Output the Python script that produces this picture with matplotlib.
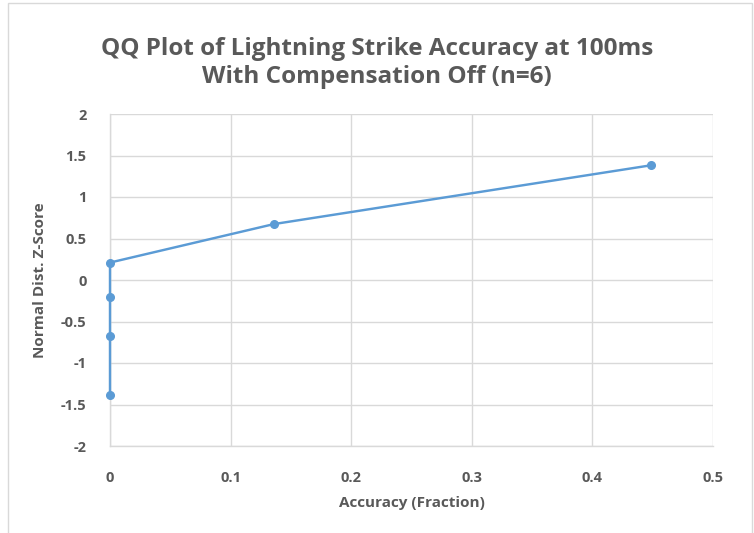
import matplotlib
matplotlib.use("Agg")
import matplotlib.pyplot as plt
from matplotlib.patches import Rectangle

# dati del QQ plot (n=6)
accuracy = [0.0, 0.0, 0.0, 0.0, 0.136, 0.449]
z_score = [-1.383, -0.674, -0.210, 0.210, 0.674, 1.383]

x_ticks = [0, 0.1, 0.2, 0.3, 0.4, 0.5]
y_ticks = [-2, -1.5, -1, -0.5, 0, 0.5, 1, 1.5, 2]
x_tick_labels = ["0", "0.1", "0.2", "0.3", "0.4", "0.5"]
y_tick_labels = ["-2", "-1.5", "-1", "-0.5", "0", "0.5", "1", "1.5", "2"]

blu = "#5B9BD5"
grigio = "#595959"
griglia = "#D9D9D9"

# tutto il testo del grafico e' in grassetto
plt.rcParams["font.family"] = ["Open Sans", "DejaVu Sans"]
plt.rcParams["font.weight"] = "bold"
plt.rcParams["axes.labelweight"] = "bold"

fig = plt.figure(figsize=(7.54, 5.33), dpi=100)
ax = fig.add_axes([110 / 754, 87 / 533, 603 / 754, 332 / 533])

# bordo del grafico stile Excel
fig.patches.append(Rectangle((8 / 754, -0.01), 744 / 754, 1 - 3 / 533 + 0.01,
                             transform=fig.transFigure, fill=False,
                             edgecolor=griglia, linewidth=1))

ax.plot(accuracy, z_score, color=blu, linewidth=1.75, marker="o",
        markersize=5.5, zorder=3, clip_on=False)

ax.set_xlim(0, 0.5)
ax.set_ylim(-2, 2)
ax.set_xticks(x_ticks)
ax.set_xticklabels(x_tick_labels)
ax.set_yticks(y_ticks)
ax.set_yticklabels(y_tick_labels)
ax.grid(True, color=griglia, linewidth=1)
ax.set_axisbelow(True)

for side in ["top", "right"]:
    ax.spines[side].set_visible(False)
for side in ["left", "bottom"]:
    ax.spines[side].set_color(griglia)
    ax.spines[side].set_linewidth(1)

ax.tick_params(length=0, colors=grigio, labelsize=10.5)
ax.tick_params(axis="x", pad=18)
ax.tick_params(axis="y", pad=17)

ax.set_xlabel("Accuracy (Fraction)", fontsize=11, fontweight="bold",
              color=grigio, labelpad=8)
ax.set_ylabel("Normal Dist. Z-Score", fontsize=11, fontweight="bold",
              color=grigio, labelpad=10)

fig.text(0.5, 1 - 63 / 533, "QQ Plot of Lightning Strike Accuracy at 100ms\nWith Compensation Off (n=6)",
         ha="center", va="center", fontsize=17.5,
         color=grigio, linespacing=1.2)

fig.savefig("out.png", dpi=100)
